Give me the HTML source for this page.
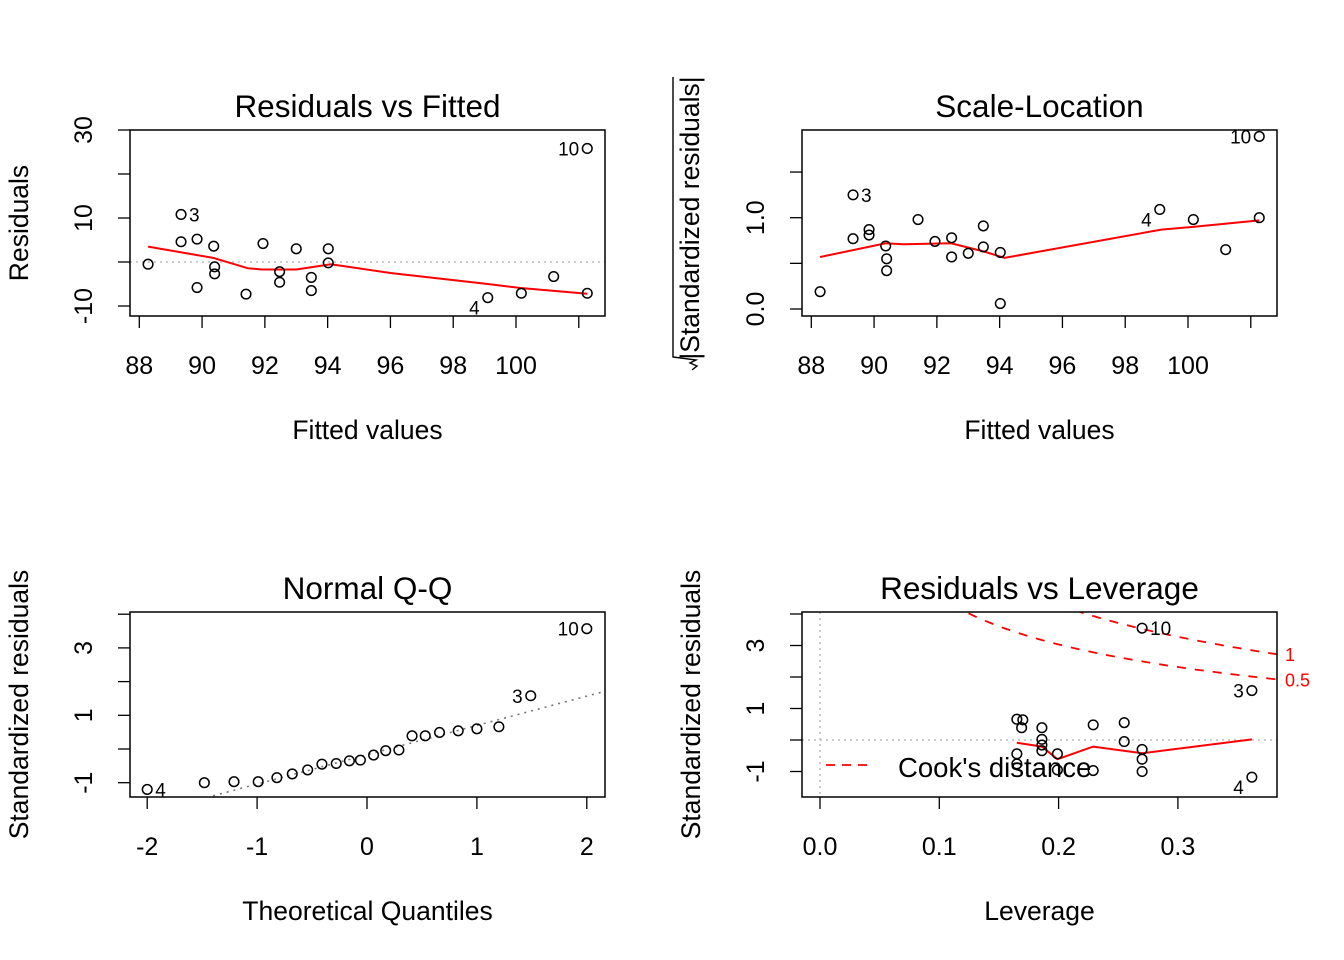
<!DOCTYPE html>
<html><head><meta charset="utf-8"><style>
html,body{margin:0;background:#fff;overflow:hidden;width:1344px;height:960px}
svg{display:block;font-family:"Liberation Sans",Arial,sans-serif}
</style></head><body>
<svg id="c" width="1344" height="960" viewBox="0 0 1344 960"></svg>
<script>
// Panel 1: Residuals vs Fitted
const p1Fitted=[88.28,89.33,89.33,89.84,89.84,90.37,90.4,90.4,91.4,91.94,92.47,92.47,93.0,93.48,93.48,94.02,94.02,99.1,100.17,101.2,102.27,102.27];
const p1Resid=[-0.5,10.8,4.6,5.2,-5.8,3.6,-1.1,-2.7,-7.3,4.2,-2.2,-4.6,3.0,-3.5,-6.5,3.0,-0.2,-8.1,-7.1,-3.3,-7.1,25.8];
const p1Labels=["","3","","","","","","","","","","","","","","","","4","","","","10"];
const p1SmoothX=[88.28,90.37,91.45,91.9,93.0,94.1,96.0,99.1,100.15,102.27];
const p1SmoothY=[3.5,0.9,-1.4,-1.7,-1.7,-0.5,-2.5,-5.0,-5.9,-7.2];
// Panel 2: Scale-Location
const p2Fitted=[88.28,89.33,89.33,89.84,89.84,90.37,90.4,90.4,91.4,91.94,92.47,92.47,93.0,93.48,93.48,94.02,94.02,99.1,100.17,101.2,102.27,102.27];
const p2Sqrt=[0.19,1.25,0.77,0.87,0.81,0.69,0.55,0.42,0.98,0.74,0.78,0.57,0.61,0.91,0.68,0.62,0.06,1.09,0.98,0.65,1.00,1.89];
const p2Labels=["","3","","","","","","","","","","","","","","","","4","","","","10"];
const p2SmoothX=[88.28,90.37,90.95,92.45,93.5,94.15,99.15,100.2,102.27];
const p2SmoothY=[0.57,0.72,0.71,0.72,0.63,0.56,0.87,0.90,0.97];
// Panel 3: Normal Q-Q
const p3Theo=[-2.0,-1.48,-1.21,-0.99,-0.82,-0.68,-0.54,-0.41,-0.28,-0.16,-0.06,0.06,0.17,0.29,0.41,0.53,0.66,0.83,1.0,1.2,1.49,2.0];
const p3Sample=[-1.2,-1.0,-0.97,-0.97,-0.85,-0.74,-0.62,-0.45,-0.43,-0.35,-0.33,-0.18,-0.05,-0.03,0.39,0.39,0.49,0.54,0.6,0.66,1.58,3.57];
const p3Labels=["4","","","","","","","","","","","","","","","","","","","","3","10"];
const p3LineInt=-0.17, p3LineSlope=0.87;
// Panel 4: Residuals vs Leverage
const p4Lev=[0.165,0.170,0.169,0.165,0.165,0.186,0.186,0.186,0.186,0.199,0.199,0.229,0.229,0.255,0.255,0.270,0.270,0.270,0.270,0.362,0.362];
const p4Std=[0.66,0.64,0.39,-0.44,-0.76,0.39,0.02,-0.16,-0.34,-0.44,-0.95,0.48,-0.97,0.55,-0.05,-0.30,-0.61,-1.0,3.55,1.57,-1.18];
const p4Labels=["","","","","","","","","","","","","","","","","","","10","3","4"];
const p4SmoothX=[0.165,0.186,0.199,0.229,0.270,0.362];
const p4SmoothY=[-0.09,-0.21,-0.61,-0.21,-0.42,0.02];
const cookLevels=[0.5,1];
const cookP=4.6;

const NS="http://www.w3.org/2000/svg";
const svg=document.getElementById('c');
function el(tag,attrs,parent,text){const e=document.createElementNS(NS,tag);for(const k in attrs)e.setAttribute(k,attrs[k]);if(text!==undefined)e.textContent=text;(parent||svg).appendChild(e);return e;}
function lin(d0,d1,r0,r1){return v=>r0+(v-d0)*(r1-r0)/(d1-d0);}

function panel(o){
  const g=el('g',{});
  
  
  const cp='clip-'+o.name;
  const defs=el('defs',{},g);const clip=el('clipPath',{id:cp},defs);
  el('rect',{x:o.L,y:o.T,width:o.R-o.L,height:o.B-o.T},clip);
  const t=el('text',{x:(o.L+o.R)/2,y:o.T-13,'text-anchor':'middle','font-size':31.5},g,o.title);
  
  
  const xa=el('g',{},g);
  
  
  o.xt.forEach((v,i)=>{const x=o.sx(v);
    el('line',{x1:x,x2:x,y1:o.B,y2:o.B+12,stroke:'#000','stroke-width':1.3},xa);
    if(o.xl[i]!=='') el('text',{x:x,y:o.B+58,'text-anchor':'middle','font-size':25},xa,o.xl[i]);});
  const xt=el('text',{x:(o.L+o.R)/2,y:o.B+123,'text-anchor':'middle','font-size':26.5},g,o.xlab);
  
  
  const ya=el('g',{},g);
  
  
  o.yt.forEach((v,i)=>{const y=o.sy(v);
    el('line',{x1:o.L-12,x2:o.L,y1:y,y2:y,stroke:'#000','stroke-width':1.3},ya);
    if(o.yl[i]!=='') el('text',{x:0,y:0,transform:`translate(${o.L-38},${y}) rotate(-90)`,'text-anchor':'middle','font-size':25},ya,o.yl[i]);});
  if(o.ylab){
  const yt=el('text',{x:0,y:0,transform:`translate(${o.L-102},${(o.T+o.B)/2}) rotate(-90)`,'text-anchor':'middle','font-size':26.5},g,o.ylab);
  
  }
  const inner=el('g',{'clip-path':`url(#${cp})`},g);
  return {g,inner};
}
function pts(P,o,xs,ys,labs,side){
  xs.forEach((v,i)=>{const x=o.sx(v),y=o.sy(ys[i]);
    const c=el('circle',{cx:x,cy:y,r:4.8,fill:'none',stroke:'#000','stroke-width':1.5},P.g);
    
    
    if(labs[i]){const s=side(labs[i]);
      el('text',{x:x+s*8,y:y+7+(labs[i]==='4'&&o.name!=='qq-panel'?10:0),'text-anchor':s>0?'start':'end','font-size':19},P.g,labs[i]);}
  });
}
function poly(parent,o,xs,ys,attrs){
  const d=xs.map((v,i)=>`${i?'L':'M'}${o.sx(v).toFixed(1)},${o.sy(ys[i]).toFixed(1)}`).join('');
  return el('path',Object.assign({d:d,fill:'none'},attrs),parent);
}

// Panel 1
{const o={name:'residuals-vs-fitted-panel',L:130,R:605,T:130,B:316,title:'Residuals vs Fitted',xlab:'Fitted values',ylab:'Residuals',
  xt:[88,90,92,94,96,98,100,102],xl:['88','90','92','94','96','98','100',''],yt:[-10,0,10,20,30],yl:['-10','','10','','30']};
 o.sx=lin(88,100,139.3,516);o.sy=lin(0,30,262,130);
 const P=panel(o);
 el('line',{x1:o.L,x2:o.R,y1:o.sy(0),y2:o.sy(0),stroke:'#bbb','stroke-width':1.5,'stroke-dasharray':'2 4'},P.inner);
 const s=poly(P.inner,o,p1SmoothX,p1SmoothY,{stroke:'#f00','stroke-width':2});
 
 
 pts(P,o,p1Fitted,p1Resid,p1Labels,l=>l==='3'?1:-1);
 el('rect',{x:o.L,y:o.T,width:o.R-o.L,height:o.B-o.T,fill:'none',stroke:'#000','stroke-width':1.5},P.g);}
// Panel 2
{const o={name:'scale-location-panel',L:802,R:1277,T:130,B:316,title:'Scale-Location',xlab:'Fitted values',ylab:'',
  xt:[88,90,92,94,96,98,100,102],xl:['88','90','92','94','96','98','100',''],yt:[0,0.5,1,1.5],yl:['0.0','','1.0','']};
 o.sx=lin(88,100,811.3,1188);o.sy=lin(0,1,309,217.7);
 const P=panel(o);
 const yl=el('text',{x:0,y:0,transform:`translate(699,218) rotate(-90)`,'text-anchor':'middle','font-size':26.5},P.g,'|Standardized residuals|');
 
 
 el('path',{d:'M673,77 L673,357 L696,360 L690,363 L697,366 L692,370',fill:'none',stroke:'#000','stroke-width':1.4},P.g);
 const s=poly(P.inner,o,p2SmoothX,p2SmoothY,{stroke:'#f00','stroke-width':2});
 
 
 pts(P,o,p2Fitted,p2Sqrt,p2Labels,l=>l==='3'?1:-1);
 el('rect',{x:o.L,y:o.T,width:o.R-o.L,height:o.B-o.T,fill:'none',stroke:'#000','stroke-width':1.5},P.g);}
// Panel 3
{const o={name:'qq-panel',L:130,R:605,T:612,B:797,title:'Normal Q-Q',xlab:'Theoretical Quantiles',ylab:'Standardized residuals',
  xt:[-2,-1,0,1,2],xl:['-2','-1','0','1','2'],yt:[-1,0,1,2,3,4],yl:['-1','','1','','3','']};
 o.sx=lin(0,1,367,476.9);o.sy=lin(0,1,749,715.3);
 const P=panel(o);
 poly(P.inner,o,[-3,3],[p3LineInt-3*p3LineSlope,p3LineInt+3*p3LineSlope],{stroke:'#777','stroke-width':1.6,'stroke-dasharray':'2 5'});
 pts(P,o,p3Theo,p3Sample,p3Labels,l=>l==='4'?1:-1);
 el('rect',{x:o.L,y:o.T,width:o.R-o.L,height:o.B-o.T,fill:'none',stroke:'#000','stroke-width':1.5},P.g);}
// Panel 4
{const o={name:'residuals-vs-leverage-panel',L:802,R:1277,T:612,B:797,title:'Residuals vs Leverage',xlab:'Leverage',ylab:'Standardized residuals',
  xt:[0,0.1,0.2,0.3],xl:['0.0','0.1','0.2','0.3'],yt:[-1,0,1,2,3,4],yl:['-1','','1','','3','']};
 o.sx=lin(0,0.1,820,939.3);o.sy=lin(0,1,740,708.5);
 const P=panel(o);
 el('line',{x1:o.L,x2:o.R,y1:o.sy(0),y2:o.sy(0),stroke:'#bbb','stroke-width':1.5,'stroke-dasharray':'2 4'},P.inner);
 el('line',{x1:o.sx(0),x2:o.sx(0),y1:o.T,y2:o.B,stroke:'#bbb','stroke-width':1.5,'stroke-dasharray':'2 4'},P.inner);
 cookLevels.forEach(c=>{const hs=[],ys=[],ysn=[];
   for(let h=0.01;h<=0.4;h+=0.005){hs.push(h);const v=Math.sqrt(c*cookP*(1-h)/h);ys.push(v);ysn.push(-v);}
   const a=poly(P.inner,o,hs,ys,{stroke:'#f00','stroke-width':1.8,'stroke-dasharray':'9 9'});
   
   
   poly(P.inner,o,hs,ysn,{stroke:'#f00','stroke-width':1.8,'stroke-dasharray':'9 9'});
   const yy=o.sy(Math.sqrt(c*cookP*(1-0.375)/0.375));
   el('text',{x:1285,y:yy+8,'font-size':18,fill:'#f00'},P.g,String(c));});
 const s=poly(P.inner,o,p4SmoothX,p4SmoothY,{stroke:'#f00','stroke-width':2});
 
 
 pts(P,o,p4Lev,p4Std,p4Labels,l=>l==='10'?1:-1);
 const lg=el('g',{},P.g);
 
 
 el('line',{x1:826,x2:868,y1:765,y2:765,stroke:'#f00','stroke-width':1.8,'stroke-dasharray':'9 7'},lg);
 el('text',{x:898,y:777,'font-size':27.5},lg,"Cook's distance");
 el('rect',{x:o.L,y:o.T,width:o.R-o.L,height:o.B-o.T,fill:'none',stroke:'#000','stroke-width':1.5},P.g);}
</script>
</body></html>
